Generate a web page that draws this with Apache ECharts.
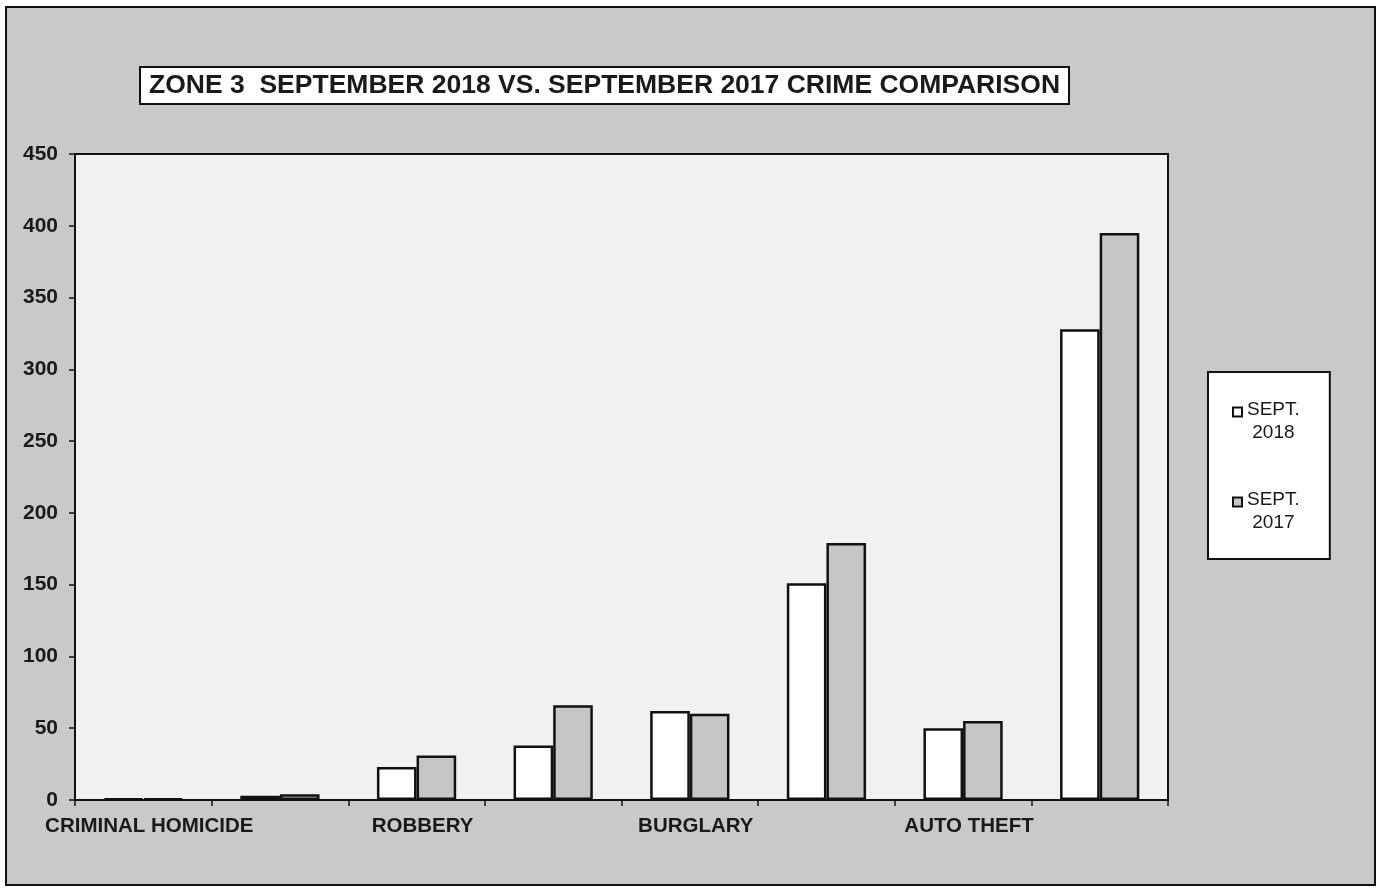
<!DOCTYPE html>
<html><head><meta charset="utf-8">
<script src="https://cdn.jsdelivr.net/npm/echarts@6/dist/echarts.min.js"></script>
<style>
html,body{margin:0;padding:0;background:#fff;}
#wrap{position:absolute;left:5px;top:6px;width:1371px;height:880px;border:2px solid #111;background:#c9c9c9;box-sizing:border-box;}
#c{position:absolute;left:0;top:0;width:1381px;height:891px;}
</style></head>
<body>
<div id="wrap"></div>
<div id="c"></div>
<script>
const categories = ['CRIMINAL HOMICIDE','RAPE','ROBBERY','AGGRAVATED ASSAULT','BURGLARY','LARCENY','AUTO THEFT','TOTAL'];
const sept2018 = [1, 3, 23, 38, 62, 151, 50, 328];
const sept2017 = [1, 4, 31, 66, 60, 179, 55, 395];
const seriesNames = ['SEPT.\n2018','SEPT.\n2017'];
const titleText = 'ZONE 3  SEPTEMBER 2018 VS. SEPTEMBER 2017 CRIME COMPARISON';

const chart = echarts.init(document.getElementById('c'), null, {renderer:'canvas'});
const font = 'Liberation Sans, Arial, sans-serif';
chart.setOption({
  backgroundColor: 'transparent',
  animation: false,
  title: {
    text: titleText,
    left: 140, top: 67,
    backgroundColor: '#fff',
    borderColor: '#111', borderWidth: 2,
    padding: [5, 9, 5, 9],
    textStyle: {fontFamily: font, fontWeight: 'bold', fontSize: 26.5, color: '#1a1a1a'}
  },
  legend: {
    orient: 'vertical',
    left: 1208, top: 372,
    backgroundColor: '#fff',
    borderColor: '#111', borderWidth: 2,
    padding: [26, 30, 25, 24],
    itemGap: 44,
    itemWidth: 9, itemHeight: 30,
    itemStyle: {borderWidth: 2},
    icon: 'path://M0,0H10V10H0Z M0,30',
    formatter: n => n.replace('\n', '\n '),
    textStyle: {fontFamily: font, fontSize: 19, color: '#1a1a1a', lineHeight: 23},
    data: seriesNames
  },
  grid: {
    left: 75, right: 213, top: 154, bottom: 91,
    show: true, backgroundColor: '#f1f1f1', borderColor: '#111', borderWidth: 2
  },
  xAxis: {
    type: 'category',
    data: categories,
    axisLine: {lineStyle: {color: '#111', width: 2}},
    axisTick: {show: true, interval: 0, length: 6, lineStyle: {color: '#111', width: 1.5}},
    axisLabel: {interval: 1, margin: 16, padding: [0, 0, 0, 12], fontFamily: font, fontWeight: 'bold', fontSize: 20.5, color: '#1a1a1a'}
  },
  yAxis: {
    type: 'value',
    min: 0, max: 450, interval: 50,
    axisLine: {show: true, lineStyle: {color: '#111', width: 2}},
    axisTick: {show: true, length: 6, lineStyle: {color: '#111', width: 1.5}},
    splitLine: {show: false},
    axisLabel: {margin: 17, fontFamily: font, fontWeight: 'bold', fontSize: 21, color: '#1a1a1a'}
  },
  series: [
    {name: seriesNames[0], type: 'bar', data: sept2018, barGap: '0%', barCategoryGap: '42%',
     itemStyle: {color: '#ffffff', borderColor: '#111', borderWidth: 2.5}},
    {name: seriesNames[1], type: 'bar', data: sept2017,
     itemStyle: {color: '#c6c6c6', borderColor: '#111', borderWidth: 2.5}}
  ]
});
</script>
</body></html>
